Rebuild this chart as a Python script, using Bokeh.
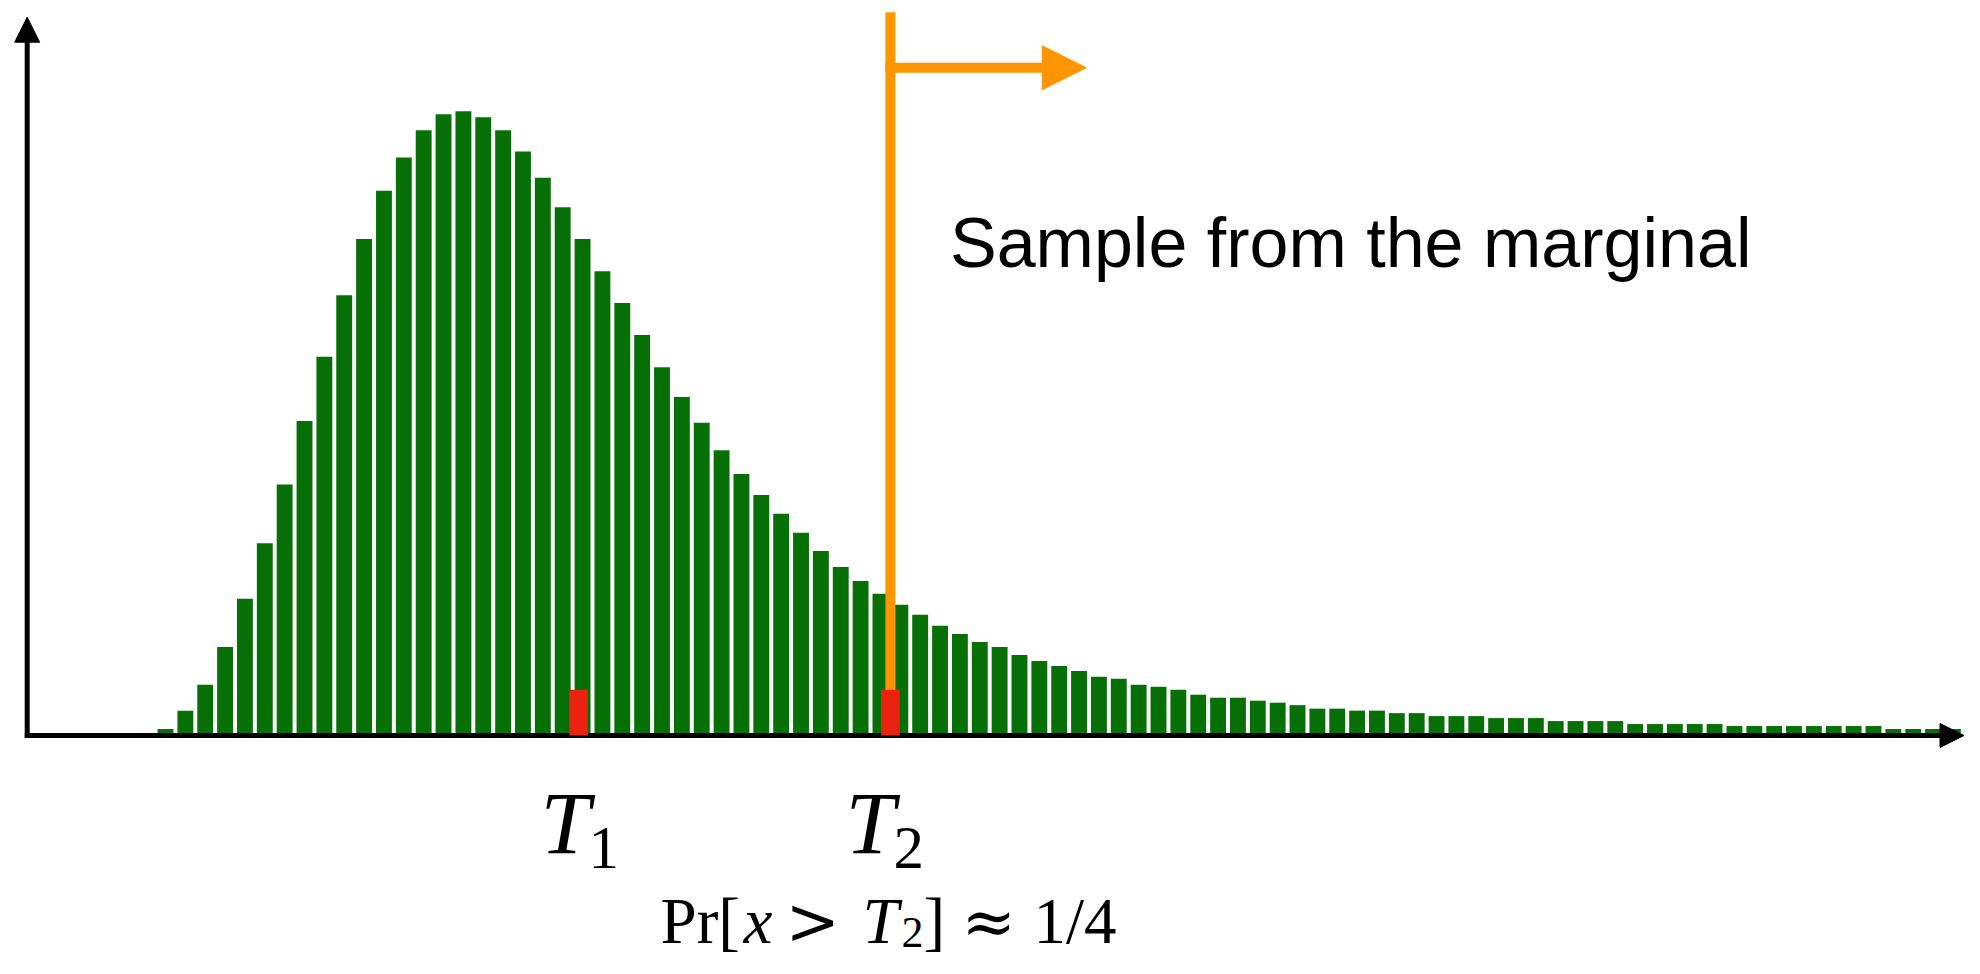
from bokeh.plotting import figure
from bokeh.models import Range1d, Arrow, NormalHead, Label, ColumnDataSource
from bokeh.embed import file_html
from bokeh.resources import INLINE

# ---------------- data ----------------
bins = list(range(1, 92))
counts = [8, 45, 97, 173, 270, 382, 500, 628, 757, 881,
          994, 1091, 1158, 1213, 1245, 1251, 1239, 1213, 1170, 1117,
          1058, 994, 929, 865, 801, 736, 676, 624, 569, 521,
          479, 441, 403, 366, 334, 306, 280, 258, 238, 216,
          199, 183, 173, 157, 145, 135, 125, 113, 109, 97,
          93, 87, 77, 71, 71, 65, 61, 56, 49, 49,
          45, 45, 40, 40, 34, 34, 34, 30, 30, 30,
          24, 24, 24, 24, 18, 18, 18, 18, 18, 14,
          14, 14, 14, 14, 14, 14, 14, 8, 8, 8, 8]
thresholds = [21.8, 37.5]          # T1, T2 positions (bin units)
threshold_labels = ["1", "2"]
marker_height = 87
sample_arrow_end = 47.36
sample_arrow_level = 1338.5
main_text = "Sample from the marginal"

GREEN = "#067006"
ORANGE = "#FF9600"
RED = "#EC2211"

W, H = 1964, 958
PXX = 19.86     # px per bin
PXY = 0.497     # px per count
x_start = 1 - 165 / PXX
x_end = x_start + W / PXX
y_start = -(H - 732.5) / PXY
y_end = y_start + H / PXY


def X(px):
    return x_start + px / PXX


def Y(py):
    return y_end - py / PXY


p = figure(width=W, height=H, x_range=Range1d(x_start, x_end), y_range=Range1d(y_start, y_end),
           output_backend="svg", toolbar_location=None, min_border=0,
           x_axis_type=None, y_axis_type=None)
p.grid.visible = False
p.outline_line_color = None
p.background_fill_color = "white"

src = ColumnDataSource(dict(x=bins, top=counts))
p.vbar(x="x", top="top", bottom=0, width=0.8, source=src, fill_color=GREEN, line_color=None)

# orange vertical threshold line at T2
t2 = thresholds[1]
p.segment(x0=[t2], y0=[0], x1=[t2], y1=[Y(11.7)], line_color=ORANGE, line_width=10)

# orange arrow to the right
p.add_layout(Arrow(end=NormalHead(size=44, fill_color=ORANGE, line_color=ORANGE, line_width=1),
                   x_start=t2 - 0.25, y_start=sample_arrow_level, x_end=sample_arrow_end, y_end=sample_arrow_level,
                   line_color=ORANGE, line_width=10))

# axes as arrows
axis_x = X(26.7)
p.add_layout(Arrow(end=NormalHead(size=25, fill_color="black", line_color="black", line_width=1),
                   x_start=axis_x, y_start=-10, x_end=axis_x, y_end=Y(16.7),
                   line_color="black", line_width=5))
p.add_layout(Arrow(end=NormalHead(size=24, fill_color="black", line_color="black", line_width=1),
                   x_start=axis_x - 0.12, y_start=-5, x_end=X(1963.5), y_end=-5,
                   line_color="black", line_width=5))

# red markers
r = p.quad(left=[t - 0.47 for t in thresholds], right=[t + 0.47 for t in thresholds],
           bottom=-5, top=marker_height, fill_color=RED, line_color=None)
r.level = "overlay"


def lab(text, fx, fy, size, font="Liberation Serif", style="normal"):
    # empirical correction: rendered alphabetic baseline lands lower than requested
    corr = 0.25 * size + 5
    p.add_layout(Label(x=X(fx), y=Y(fy - corr), text=text, text_font=font, text_font_style=style,
                       text_font_size=f"{size}px", text_baseline="alphabetic", text_align="left",
                       text_color="black"))


lab(main_text, 949.5, 265, 70, font="Liberation Sans")

# T labels
for t, sub, dx in zip(thresholds, threshold_labels, [0, 305]):
    lab("T", 540 + dx, 850, 89, style="italic")
    lab(sub, 588 + dx, 868, 61)

# Pr[x > T2] ≈ 1/4  (raised slightly so the subscript fits inside the canvas)
PR_BASE = 942
lab("Pr[", 660, PR_BASE, 65)
lab("x", 743, PR_BASE, 65, style="italic")
lab(">", 785, PR_BASE, 65, font="DejaVu Serif")
lab("T", 862, PR_BASE, 65, style="italic")
lab("2", 901, PR_BASE + 6, 44)
lab("]", 923, PR_BASE, 65)
lab("\u2248", 961, PR_BASE, 65, font="DejaVu Serif")
lab("1/4", 1033, PR_BASE, 65)

open("out.html", "w").write(file_html(p, INLINE))
